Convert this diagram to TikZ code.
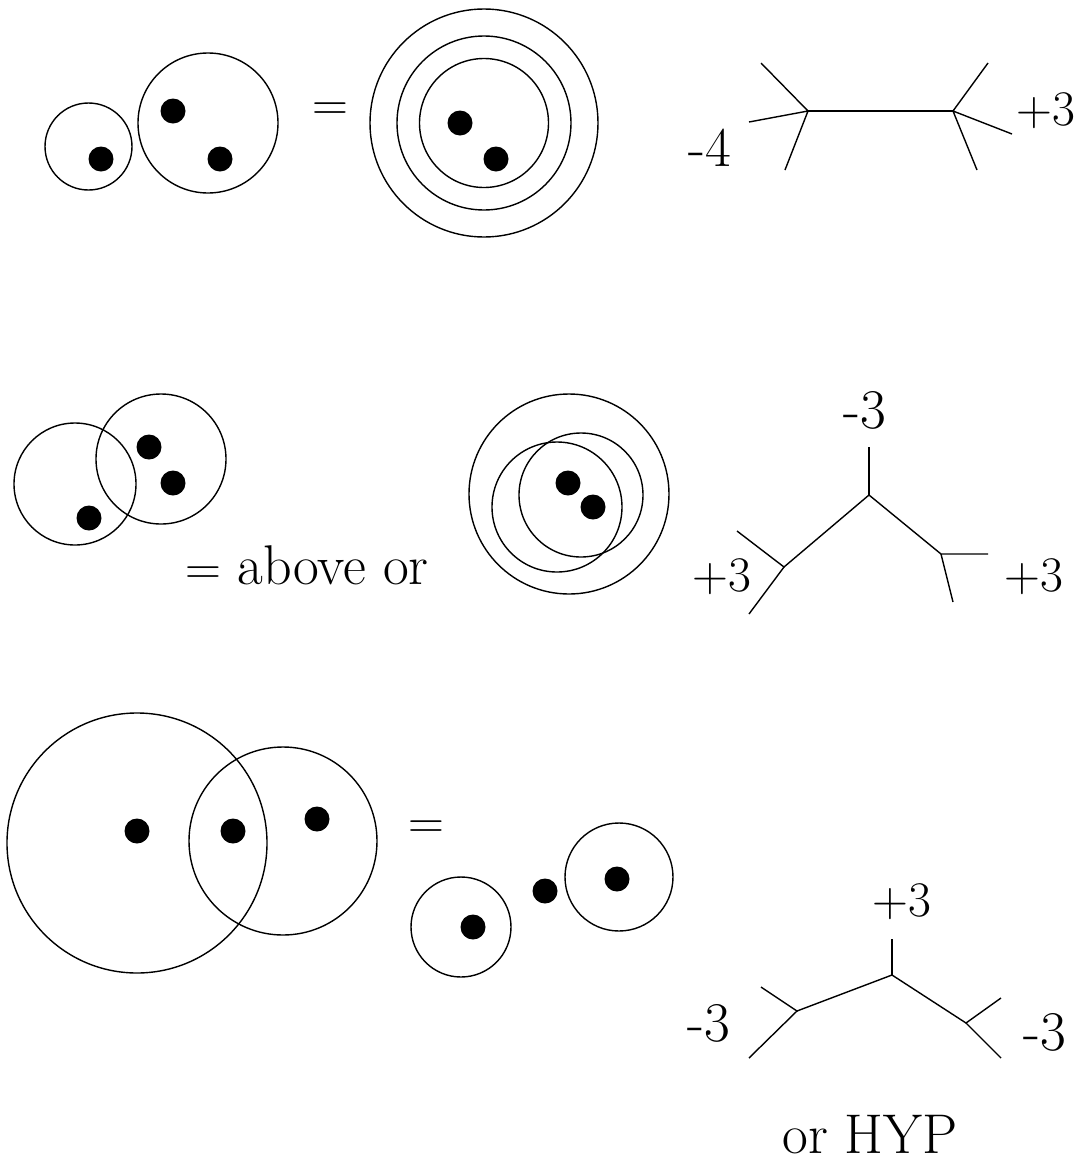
\documentclass[tikz,border=0pt]{standalone}
\usepackage{tikz}

\begin{document}
\begin{tikzpicture}[x=0.5pt, y=-0.5pt,
    ring/.style={circle, draw, line width=0.7pt, inner sep=0pt},
    dot/.style={circle, fill, inner sep=0pt, minimum size=12.5pt},
    edge/.style={line width=0.7pt},
    lab/.style={inner sep=0pt, font=\fontsize{28}{33}\selectfont},
    eqs/.style={inner sep=0pt, font=\fontsize{25}{30}\selectfont}]
  \useasboundingbox (0,0) rectangle (1086,1163);

  % first row
  \node[ring, minimum size=43.5pt] (ra1) at (88.5,146.5) {};
  \node[ring, minimum size=70pt] (rb1) at (208,123) {};
  \node[dot] (da1) at (101,159) {};
  \node[dot] (db1) at (173,111) {};
  \node[dot] (dc1) at (220,159) {};
  \node[eqs] (eq1) at (330,112) {$=$};
  \node[ring, minimum size=114pt] (rc1) at (484,123) {};
  \node[ring, minimum size=87pt] (rd1) at (484,123) {};
  \node[ring, minimum size=64.5pt] (re1) at (484,123) {};
  \node[dot] (dd1) at (460,123) {};
  \node[dot] (de1) at (496,159) {};

  \coordinate (ta) at (808,111);
  \coordinate (tb) at (953,111);
  \coordinate (ta1) at (761,63);
  \coordinate (ta2) at (749,122);
  \coordinate (ta3) at (785,170);
  \coordinate (tb1) at (988,63);
  \coordinate (tb2) at (1012,134);
  \coordinate (tb3) at (977,170);
  \draw[edge] (ta) -- (tb);
  \draw[edge] (ta1) -- (ta) -- (ta2) (ta) -- (ta3);
  \draw[edge] (tb1) -- (tb) -- (tb2) (tb) -- (tb3);
  \node[lab] (la1) at (710,148) {-4};
  \node[lab] (lb1) at (1046,111) {$+3$};

  % second row
  \node[ring, minimum size=61pt] (ra2) at (75,484) {};
  \node[ring, minimum size=65pt] (rb2) at (161,459) {};
  \node[dot] (da2) at (149,447) {};
  \node[dot] (db2) at (173,483) {};
  \node[dot] (dc2) at (89,518) {};
  \node[lab] (txt2) at (307,565) {$=$ above or};
  \node[ring, minimum size=100pt] (rc2) at (569,494) {};
  \node[ring, minimum size=62pt] (rd2) at (581,495) {};
  \node[ring, minimum size=65pt] (re2) at (557,507) {};
  \node[dot] (dd2) at (568,483) {};
  \node[dot] (de2) at (593,507) {};

  \coordinate (tc) at (869,495);
  \coordinate (tc1) at (869,447);
  \coordinate (td) at (784,567);
  \coordinate (td1) at (737,531);
  \coordinate (td2) at (749,614);
  \coordinate (te) at (941,554);
  \coordinate (te1) at (988,554);
  \coordinate (te2) at (953,602);
  \draw[edge] (tc1) -- (tc);
  \draw[edge] (td) -- (tc) -- (te);
  \draw[edge] (td1) -- (td) -- (td2);
  \draw[edge] (te1) -- (te) -- (te2);
  \node[lab] (lc2) at (865,410) {-3};
  \node[lab] (ld2) at (722,577) {$+3$};
  \node[lab] (le2) at (1034,577) {$+3$};

  % third row
  \node[ring, minimum size=130pt] (ra3) at (137,843) {};
  \node[ring, minimum size=94pt] (rb3) at (283,841) {};
  \node[dot] (da3) at (137,831) {};
  \node[dot] (db3) at (233,831) {};
  \node[dot] (dc3) at (317,819) {};
  \node[eqs] (eq3) at (426,830) {$=$};
  \node[ring, minimum size=50pt] (rc3) at (461,927) {};
  \node[dot] (dd3) at (473,927) {};
  \node[dot] (de3) at (545,891) {};
  \node[ring, minimum size=54pt] (rd3) at (619,877) {};
  \node[dot] (df3) at (617,879) {};

  \coordinate (tf) at (892,975);
  \coordinate (tf1) at (892,939);
  \coordinate (tg) at (797,1011);
  \coordinate (tg1) at (761,987);
  \coordinate (tg2) at (749,1058);
  \coordinate (th) at (966,1023);
  \coordinate (th1) at (1001,998);
  \coordinate (th2) at (1001,1058);
  \draw[edge] (tf1) -- (tf);
  \draw[edge] (tg) -- (tf) -- (th);
  \draw[edge] (tg1) -- (tg) -- (tg2);
  \draw[edge] (th1) -- (th) -- (th2);
  \node[lab] (lf3) at (902,902) {$+3$};
  \node[lab] (lg3) at (709,1023) {-3};
  \node[lab] (lh3) at (1045,1032) {-3};
  \node[lab] (hyp) at (870,1135) {or HYP};
\end{tikzpicture}
\end{document}
